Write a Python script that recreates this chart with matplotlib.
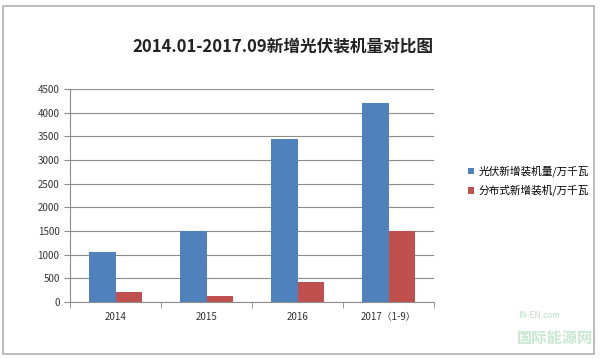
import matplotlib.pyplot as plt
import numpy as np
from matplotlib.patches import Rectangle

plt.rcParams['font.family'] = ['Noto Sans CJK SC', 'DejaVu Sans']

categories = ['2014', '2015', '2016', '2017（1-9）']
pv_total = [1063, 1500, 3443, 4197]
distributed = [205, 127, 422, 1493]
labels = ['光伏新增装机量/万千瓦', '分布式新增装机/万千瓦']
title = '2014.01-2017.09新增光伏装机量对比图'

blue = '#4F81BD'
red = '#C0504D'

fig = plt.figure(figsize=(6, 3.59), dpi=100)
fig.patch.set_facecolor('white')
# outer chart frame
fig.add_artist(Rectangle((3/600, 1-354/359), 591/600, 348/359, transform=fig.transFigure,
                         fill=False, edgecolor='#b0b0b0', linewidth=1.2))

ax = fig.add_axes([70/600, 1-302/359, 364/600, 213/359])
x = np.arange(len(categories))
w = 0.286
ax.bar(x - w/2, pv_total, w, color=blue, label=labels[0], zorder=3)
ax.bar(x + w/2, distributed, w, color=red, label=labels[1], zorder=3)

ax.set_xlim(-0.5, len(categories) - 0.5)
ax.set_ylim(0, 4500)
ax.set_yticks(range(0, 4501, 500))
ax.yaxis.grid(True, color='#8c8c8c', linewidth=0.8, zorder=0)
ax.set_xticks(x)
ax.set_xticklabels(categories)
ax.set_xticks(np.arange(-0.5, len(categories), 1), minor=True)
ax.tick_params(axis='x', which='major', length=0, labelsize=7, pad=7, colors='#333333')
ax.tick_params(axis='x', which='minor', length=4, color='#8c8c8c')
ax.tick_params(axis='y', length=4, color='#8c8c8c', labelsize=7, colors='#333333')
for s in ['top', 'right']:
    ax.spines[s].set_visible(False)
ax.spines['left'].set_color('#8c8c8c')
ax.spines['bottom'].set_color('#8c8c8c')

fig.text(283/600, 1-47/359, title, ha='center', va='center', fontsize=12, fontweight='bold',
         color='#222222')

fig.legend(loc='center left', bbox_to_anchor=(458/600, 1-181/359), frameon=False,
           fontsize=7.7, handlelength=0.6, handleheight=0.6, handletextpad=0.4, labelspacing=0.7)

# faint watermark
fig.text(560/600, 1-318/359, 'IN-EN.com', ha='right', fontsize=6, color='#b8e0c0', style='italic')
fig.text(593/600, 1-343/359, '国际能源网', ha='right', fontsize=11, color='#c8e8d0', fontweight='bold')

fig.savefig('out.png', dpi=100)
